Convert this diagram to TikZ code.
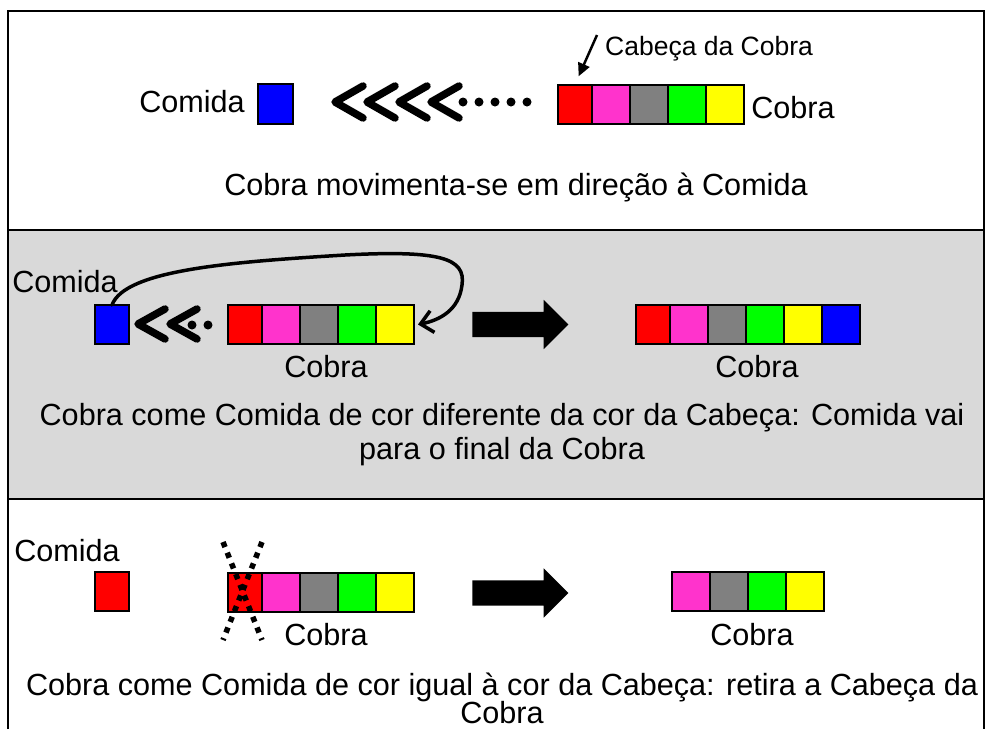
\documentclass[tikz,border=0pt]{standalone}
\usepackage{fontspec}
\setmainfont{Liberation Sans}
\usetikzlibrary{positioning,arrows.meta,shapes.arrows}

\definecolor{pinkc}{HTML}{FF33CC}
\definecolor{grayc}{HTML}{808080}
\definecolor{greenc}{HTML}{00FF00}
\definecolor{yellowc}{HTML}{FFFF00}
\definecolor{bluec}{HTML}{0000FF}
\definecolor{redc}{HTML}{FF0000}
\definecolor{panel}{HTML}{D9D9D9}

\begin{document}
\begin{tikzpicture}[x=1pt,y=-1pt,
    cell/.style={draw,line width=2pt,outer sep=0pt,inner sep=0pt,minimum width=38pt,minimum height=39pt},
    lbl/.style={inner sep=0pt,anchor=base,font=\fontsize{30.6}{37}\selectfont},
    smalllbl/.style={inner sep=0pt,anchor=base west,font=\fontsize{26.5}{30}\selectfont},
    chev/.style={line width=7.5pt,line cap=round,line join=round},
    dots/.style={line width=9pt,line cap=round,dash pattern=on 0pt off 16pt},
    fat/.style={single arrow,fill=black,inner xsep=0pt,inner ysep=12.5pt,minimum height=96pt,single arrow head extend=12pt},
    frame/.style={line width=2pt}]
    \useasboundingbox (0,0) rectangle (985,729);
    \fill[panel] (8,230) rectangle (984,499);
    \draw[frame] (8,729) -- (8,11) -- (984,11) -- (984,729);
    \draw[frame] (8,230) -- (984,230) (8,499) -- (984,499);

    % part 1
    \node (f1lbl) at (192,112) [lbl] {Comida};
    \node (f1) at (275.5,104) [cell,fill=bluec,minimum width=35pt,minimum height=40pt] {};
    \draw[dots] (463,102) -- (530,102);
    \draw[chev] (363,86) -- (335,102) -- (363,118);
    \draw[chev] (395,86) -- (367,102) -- (395,118);
    \draw[chev] (427,86) -- (399,102) -- (427,118);
    \draw[chev] (459,86) -- (431,102) -- (459,118);
    \node (s1a) at (558,104) [cell,fill=redc,minimum width=34pt,anchor=west] {};
    \node (s1b) [cell,fill=pinkc,right=0pt of s1a] {};
    \node (s1c) [cell,fill=grayc,right=0pt of s1b] {};
    \node (s1d) [cell,fill=greenc,right=0pt of s1c] {};
    \node (s1e) [cell,fill=yellowc,right=0pt of s1d] {};
    \node (s1lbl) at (793,118) [lbl] {Cobra};
    \node (headlbl) at (605,55) [smalllbl] {Cabeça da Cobra};
    \coordinate (headtail) at (597,35);
    \draw[line width=2.5pt,-{Triangle[length=13pt,width=12pt]},shorten >=9pt] (headtail) -- (s1a.north);
    \node (cap1) at (516,195) [lbl] {Cobra movimenta-se em direção à Comida};

    % part 2
    \node (f2lbl) at (65,292) [lbl] {Comida};
    \node (f2) at (112,324.5) [cell,fill=bluec,minimum width=34pt] {};
    \draw[dots] (192,325) -- (210,325);
    \draw[chev] (165,309) -- (138,324) -- (165,339);
    \draw[chev] (197,309) -- (170,324) -- (197,339);
    \node (s2a) at (228,324.5) [cell,fill=redc,minimum width=34pt,anchor=west] {};
    \node (s2b) [cell,fill=pinkc,right=0pt of s2a] {};
    \node (s2c) [cell,fill=grayc,right=0pt of s2b] {};
    \node (s2d) [cell,fill=greenc,right=0pt of s2c] {};
    \node (s2e) [cell,fill=yellowc,right=0pt of s2d] {};
    \draw[line width=3.5pt,line cap=round,-{Straight Barb[length=12pt,width=22pt]}]
        (f2.north) .. controls (125,270) and (230,262) .. (345,255)
        .. controls (440,250) and (466,258) .. (462,285)
        .. controls (459,310) and (440,320) .. ([xshift=4pt]s2e.east);
    \node (go2) at (514,324.5) [fat] {};
    \node (t2a) at (636,324.5) [cell,fill=redc,minimum width=34pt,anchor=west] {};
    \node (t2b) [cell,fill=pinkc,right=0pt of t2a] {};
    \node (t2c) [cell,fill=grayc,right=0pt of t2b] {};
    \node (t2d) [cell,fill=greenc,right=0pt of t2c] {};
    \node (t2e) [cell,fill=yellowc,right=0pt of t2d] {};
    \node (t2f) [cell,fill=bluec,right=0pt of t2e] {};
    \node (s2lbl) at (326,377) [lbl] {Cobra};
    \node (t2lbl) at (757,377) [lbl] {Cobra};
    \node (cap2a) at (502,425) [lbl] {Cobra come Comida de cor diferente da cor da Cabeça: Comida vai};
    \node (cap2b) at (502,459) [lbl] {para o final da Cobra};

    % part 3
    \node (f3lbl) at (67,561) [lbl] {Comida};
    \node (f3) at (112,591) [cell,fill=redc,minimum width=34pt] {};
    \node (s3a) at (228,592) [cell,fill=redc,minimum width=34pt,anchor=west] {};
    \node (s3b) [cell,fill=pinkc,right=0pt of s3a] {};
    \node (s3c) [cell,fill=grayc,right=0pt of s3b] {};
    \node (s3d) [cell,fill=greenc,right=0pt of s3c] {};
    \node (s3e) [cell,fill=yellowc,right=0pt of s3d] {};
    \draw[line width=5.5pt,dash pattern=on 5.5pt off 6pt] (223,542) -- (262,640) (262,542) -- (223,640);
    \node (go3) at (514,593) [fat] {};
    \node (t3b) at (672,591.5) [cell,fill=pinkc,anchor=west] {};
    \node (t3c) [cell,fill=grayc,right=0pt of t3b] {};
    \node (t3d) [cell,fill=greenc,right=0pt of t3c] {};
    \node (t3e) [cell,fill=yellowc,right=0pt of t3d] {};
    \node (s3lbl) at (326,645) [lbl] {Cobra};
    \node (t3lbl) at (752,645) [lbl] {Cobra};
    \node (cap3a) at (502,695) [lbl] {Cobra come Comida de cor igual à cor da Cabeça: retira a Cabeça da};
    \node (cap3b) at (502,723) [lbl] {Cobra};
\end{tikzpicture}
\end{document}
